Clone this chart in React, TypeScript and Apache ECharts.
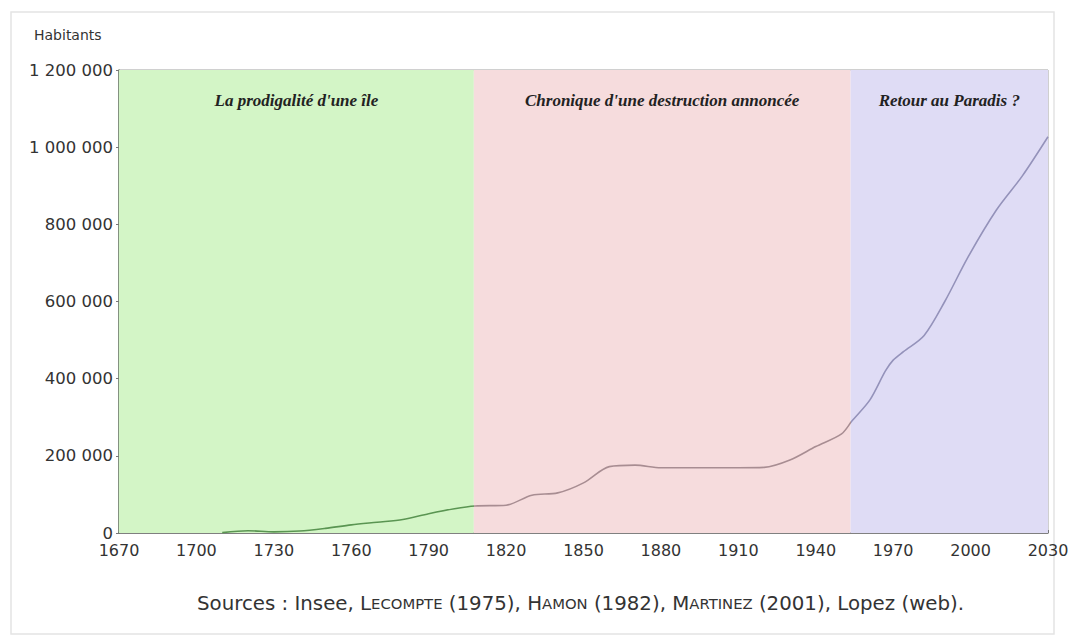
import React, { useEffect, useRef } from "react";
import * as echarts from "echarts";

const years = [1710, 1720, 1730, 1740, 1750, 1760, 1770, 1780, 1790, 1800, 1808, 1820, 1830, 1840, 1850, 1860, 1870, 1880, 1890, 1900, 1910, 1920, 1930, 1940, 1950, 1954, 1961, 1967, 1970, 1974, 1982, 1990, 1999, 2010, 2020, 2030];
const population = [1000, 6000, 3000, 5000, 12000, 21000, 28000, 35000, 50000, 63000, 70000, 72000, 98000, 104000, 130000, 172000, 176000, 169000, 169000, 169000, 169000, 170000, 189000, 224000, 257000, 290000, 345000, 420000, 448000, 470000, 512000, 600000, 715000, 837000, 925000, 1027000];

const periodNames = ["La prodigalité d'une île", "Chronique d'une destruction annoncée", "Retour au Paradis ?"];
const periodStarts = [1670, 1807.5, 1953.5];
const periodEnds = [1807.5, 1953.5, 2030];
const periodColors = ["#d3f5c6", "#f6dcdd", "#dfdcf5"];
const lineColors = ["#5a9552", "#a88d92", "#9492ba"];

const xTicks = [1670, 1700, 1730, 1760, 1790, 1820, 1850, 1880, 1910, 1940, 1970, 2000, 2030];

const fmtY = (v: number) => {
  if (v === 0) return "0";
  return String(v).replace(/\B(?=(\d{3})+(?!\d))/g, " ");
};

export default function App() {
  const ref = useRef<HTMLDivElement>(null);
  useEffect(() => {
    document.body.style.margin = "0";
    if (!ref.current) return;
    const chart = echarts.init(ref.current, null, { renderer: "svg" });
    const data = years.map((y, i) => [y, population[i]]);
    chart.setOption({
      animation: false,
      backgroundColor: "#ffffff",
      grid: {
        left: 119,
        right: 32,
        top: 70,
        bottom: 109,
        show: true,
        borderColor: "#a0a0a0",
        borderWidth: 1,
        backgroundColor: "transparent",
      },
      xAxis: {
        type: "value",
        min: 1670,
        max: 2030,
        interval: 30,
        splitLine: { show: false },
        axisLine: { show: true, onZero: false, lineStyle: { color: "#666", width: 1.5 } },
        axisTick: { show: true, length: 3, inside: true, lineStyle: { color: "#777" } },
        axisLabel: {
          color: "#333",
          fontFamily: "DejaVu Sans",
          fontSize: 16,
          margin: 9,
          formatter: (v: number) => (xTicks.includes(v) ? String(v) : ""),
        },
      },
      yAxis: {
        type: "value",
        min: 0,
        max: 1200000,
        interval: 200000,
        splitLine: { show: false },
        axisLine: { show: true, lineStyle: { color: "#6a7d66", width: 1.5 } },
        axisTick: { show: true, length: 3, lineStyle: { color: "#777" } },
        axisLabel: {
          color: "#333",
          fontFamily: "DejaVu Sans",
          fontSize: 16.5,
          margin: 6,
          formatter: fmtY,
        },
      },
      visualMap: {
        show: false,
        type: "piecewise",
        dimension: 0,
        pieces: periodStarts.map((s, i) => ({ gte: s, lt: periodEnds[i] + (i === 2 ? 1 : 0), color: lineColors[i] })),
      },
      series: [
        {
          type: "line",
          data,
          smooth: 0.3,
          showSymbol: false,
          symbol: "none",
          lineStyle: { width: 1.6 },
          markArea: {
            silent: true,
            label: {
              show: true,
              position: "insideTop",
              distance: 22,
              fontFamily: "Liberation Serif",
              fontStyle: "italic",
              fontWeight: "bold",
              fontSize: 17,
              color: "#222",
            },
            data: periodNames.map((n, i) => [
              { name: n, xAxis: periodStarts[i], yAxis: 1200000, itemStyle: { color: periodColors[i] } },
              { xAxis: periodEnds[i], yAxis: 0 },
            ]),
          },
          z: 3,
        },
      ],
      graphic: [
        {
          type: "rect",
          shape: { x: 11, y: 12, width: 1043, height: 622 },
          style: { fill: "none", stroke: "#e4e4e4", lineWidth: 1.5 },
          z: -1,
        },
        {
          type: "text",
          left: 34,
          top: 28,
          style: { text: "Habitants", fontFamily: "DejaVu Sans", fontSize: 14, fill: "#333" },
        },
        {
          type: "text",
          left: 197,
          top: 593,
          style: {
            text: "{n|Sources : Insee, L}{s|ECOMPTE}{n| (1975), H}{s|AMON}{n| (1982), M}{s|ARTINEZ}{n| (2001), Lopez (web).}",
            rich: {
              n: { fontFamily: "DejaVu Sans", fontSize: 19.8, fill: "#333" },
              s: { fontFamily: "DejaVu Sans", fontSize: 14.8, fill: "#333" },
            },
          },
        },
      ],
    });
    return () => chart.dispose();
  }, []);
  return <div ref={ref} style={{ width: 1080, height: 642 }} />;
}
